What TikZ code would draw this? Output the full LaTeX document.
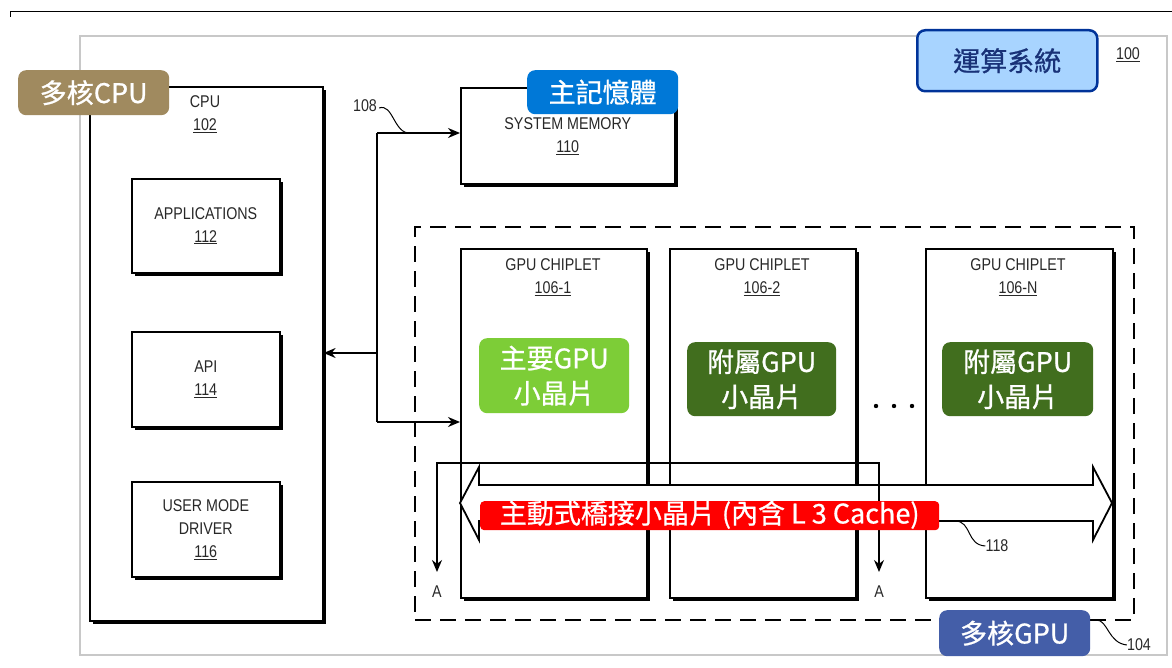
\documentclass[tikz,border=0pt]{standalone}
\usepackage{fontspec}
\setmainfont{Liberation Sans}[FakeStretch=0.84]
\newfontfamily\cjk{Noto Sans CJK TC}[FakeBold=0.8]
\usetikzlibrary{arrows.meta,shadows}
\definecolor{tanc}{RGB}{160,138,95}
\definecolor{memblue}{RGB}{0,120,215}
\definecolor{syslight}{RGB}{168,212,255}
\definecolor{sysdark}{RGB}{0,51,153}
\definecolor{systext}{RGB}{25,50,120}
\definecolor{lgreen}{RGB}{125,205,55}
\definecolor{dgreen}{RGB}{65,110,30}
\definecolor{gpublue}{RGB}{68,94,168}
\definecolor{outergray}{RGB}{200,200,200}
\definecolor{txtgray}{RGB}{40,40,40}
\begin{document}
\begin{tikzpicture}[x=1pt,y=-1pt,
  sbox/.style={draw=black,line width=1.6pt,fill=white,anchor=north west,
    drop shadow={shadow xshift=3pt,shadow yshift=-3pt,fill=black,opacity=1},
    align=center,text=txtgray,font=\fontsize{17}{23}\selectfont,inner sep=0pt},
  lbl/.style={align=center,text=txtgray,font=\fontsize{17}{23}\selectfont,inner sep=0pt},
  tag/.style={rounded corners=8pt,text=white,align=center,inner sep=0pt,anchor=north west,
    font=\cjk\fontsize{27}{35}\selectfont},
  conn/.style={line width=1.6pt,-{Stealth[length=12pt,width=10pt]}},
  squig/.style={line width=1pt},
  num/.style={text=txtgray,font=\fontsize{17}{20}\selectfont,inner sep=0pt}
]
\useasboundingbox (0,0) rectangle (1172,668);
% top rule
\draw[line width=1pt] (10,17) -- (10,12) -- (1172,12);
% outer system boundary
\node[draw=outergray,line width=2pt,minimum width=1087pt,minimum height=619pt,anchor=north west,inner sep=0pt] (sys) at (79,35) {};
\node[num,anchor=center] (n100) at (1128,55) {\underline{100}};

% CPU
\node[sbox,minimum width=233pt,minimum height=534pt] (cpu) at (89,86) {};
\node[lbl] (cputxt) at (205,114) {CPU\\\underline{102}};
\node[sbox,minimum width=148pt,minimum height=94pt] (app) at (131,178) {APPLICATIONS\\\underline{112}};
\node[sbox,minimum width=148pt,minimum height=95pt] (api) at (131,331) {API\\\underline{114}};
\node[sbox,minimum width=148pt,minimum height=95pt] (umd) at (131,481) {USER MODE\\DRIVER\\\underline{116}};

% system memory
\node[sbox,minimum width=214pt,minimum height=96pt] (mem) at (460,87) {SYSTEM MEMORY\\\underline{110}};

% GPU dashed boundary
\node[draw=black,line width=2.2pt,dash pattern=on 16pt off 9pt,minimum width=719pt,minimum height=393pt,anchor=north west,inner sep=0pt] (gpu) at (414,226) {};

% chiplets
\node[sbox,minimum width=186pt,minimum height=349pt] (c1) at (460,248) {};
\node[sbox,minimum width=186pt,minimum height=349pt] (c2) at (669,248) {};
\node[sbox,minimum width=187pt,minimum height=349pt] (cn) at (925,248) {};
\node[lbl] (c1txt) at (553,277) {GPU CHIPLET\\\underline{106-1}};
\node[lbl] (c2txt) at (762,277) {GPU CHIPLET\\\underline{106-2}};
\node[lbl] (cntxt) at (1018,277) {GPU CHIPLET\\\underline{106-N}};

% dots
\fill (876,406) circle (2.2pt) (894,406) circle (2.2pt) (912,406) circle (2.2pt);

% bus
\coordinate (bustop) at (377,133);
\coordinate (busmid) at (377,353);
\coordinate (busbot) at (377,422);
\draw[line width=1.6pt] (bustop) -- (busbot);
\draw[conn] (bustop) -- (mem.west |- bustop);
\draw[conn] (busmid) -- (cpu.east |- busmid);
\draw[conn] (busbot) -- (c1.west |- busbot);
\node[num] (n108) at (365,106) {108};
\draw[squig] (n108.east) ++(2,2) .. controls (393,103) and (394,134) .. (410,133);

% bridge (hollow double arrow)
\filldraw[fill=white,line width=1.8pt,line join=miter]
  (460,503) -- (479,467) -- (479,485) -- (1093,485) -- (1093,467) -- (1112,503)
  -- (1093,540) -- (1093,521) -- (479,521) -- (479,540) -- cycle;

% A connectors
\coordinate (aL) at (437,572);
\coordinate (aTL) at (437,463);
\coordinate (aTR) at (879,463);
\coordinate (aR) at (879,572);
\draw[line width=1.4pt,{Stealth[length=12pt,width=10pt]}-{Stealth[length=12pt,width=10pt]}] (aL) -- (aTL) -- (aTR) -- (aR);
\node[num] (aLtxt) at (437,592) {A};
\node[num] (aRtxt) at (879,592) {A};

% green tags
\node[tag,fill=lgreen,minimum width=150pt,minimum height=75pt] (t1) at (479,338) {主要GPU\\小晶片};
\node[tag,fill=dgreen,minimum width=149pt,minimum height=74pt] (t2) at (687,342) {附屬GPU\\小晶片};
\node[tag,fill=dgreen,minimum width=151pt,minimum height=74pt] (t3) at (942,342) {附屬GPU\\小晶片};

% red bridge label
\node[tag,fill=red,rounded corners=4pt,minimum width=459pt,minimum height=29pt] (bridge) at (480,501) {};
\node[text=white,inner sep=0pt,font=\cjk\fontsize{27}{29}\selectfont] (bridgetxt) at ([yshift=1pt]bridge.center) {主動式橋接小晶片 (內含 L 3 Cache)};
\node[num] (n118) at (997,546) {118};
\draw[squig] (955,521) .. controls (972,521) and (966,545) .. (n118.west);

% label tags
\node[tag,fill=tanc,minimum width=151pt,minimum height=45pt] (tcpu) at (18,70) {多核CPU};
\node[tag,fill=memblue,minimum width=151pt,minimum height=44pt] (tmem) at (527,70) {主記憶體};
\node[tag,fill=syslight,draw=sysdark,line width=2.5pt,text=systext,minimum width=180pt,minimum height=61pt] (tsys) at (916,29) {運算系統};
\node[tag,fill=gpublue,minimum width=151pt,minimum height=46pt] (tgpu) at (939,610) {多核GPU};
\node[num] (n104) at (1139,645) {104};
\draw[squig] (tgpu.north east) ++(6,10) .. controls (1108,620) and (1108,643) .. (n104.west);
\end{tikzpicture}
\end{document}
